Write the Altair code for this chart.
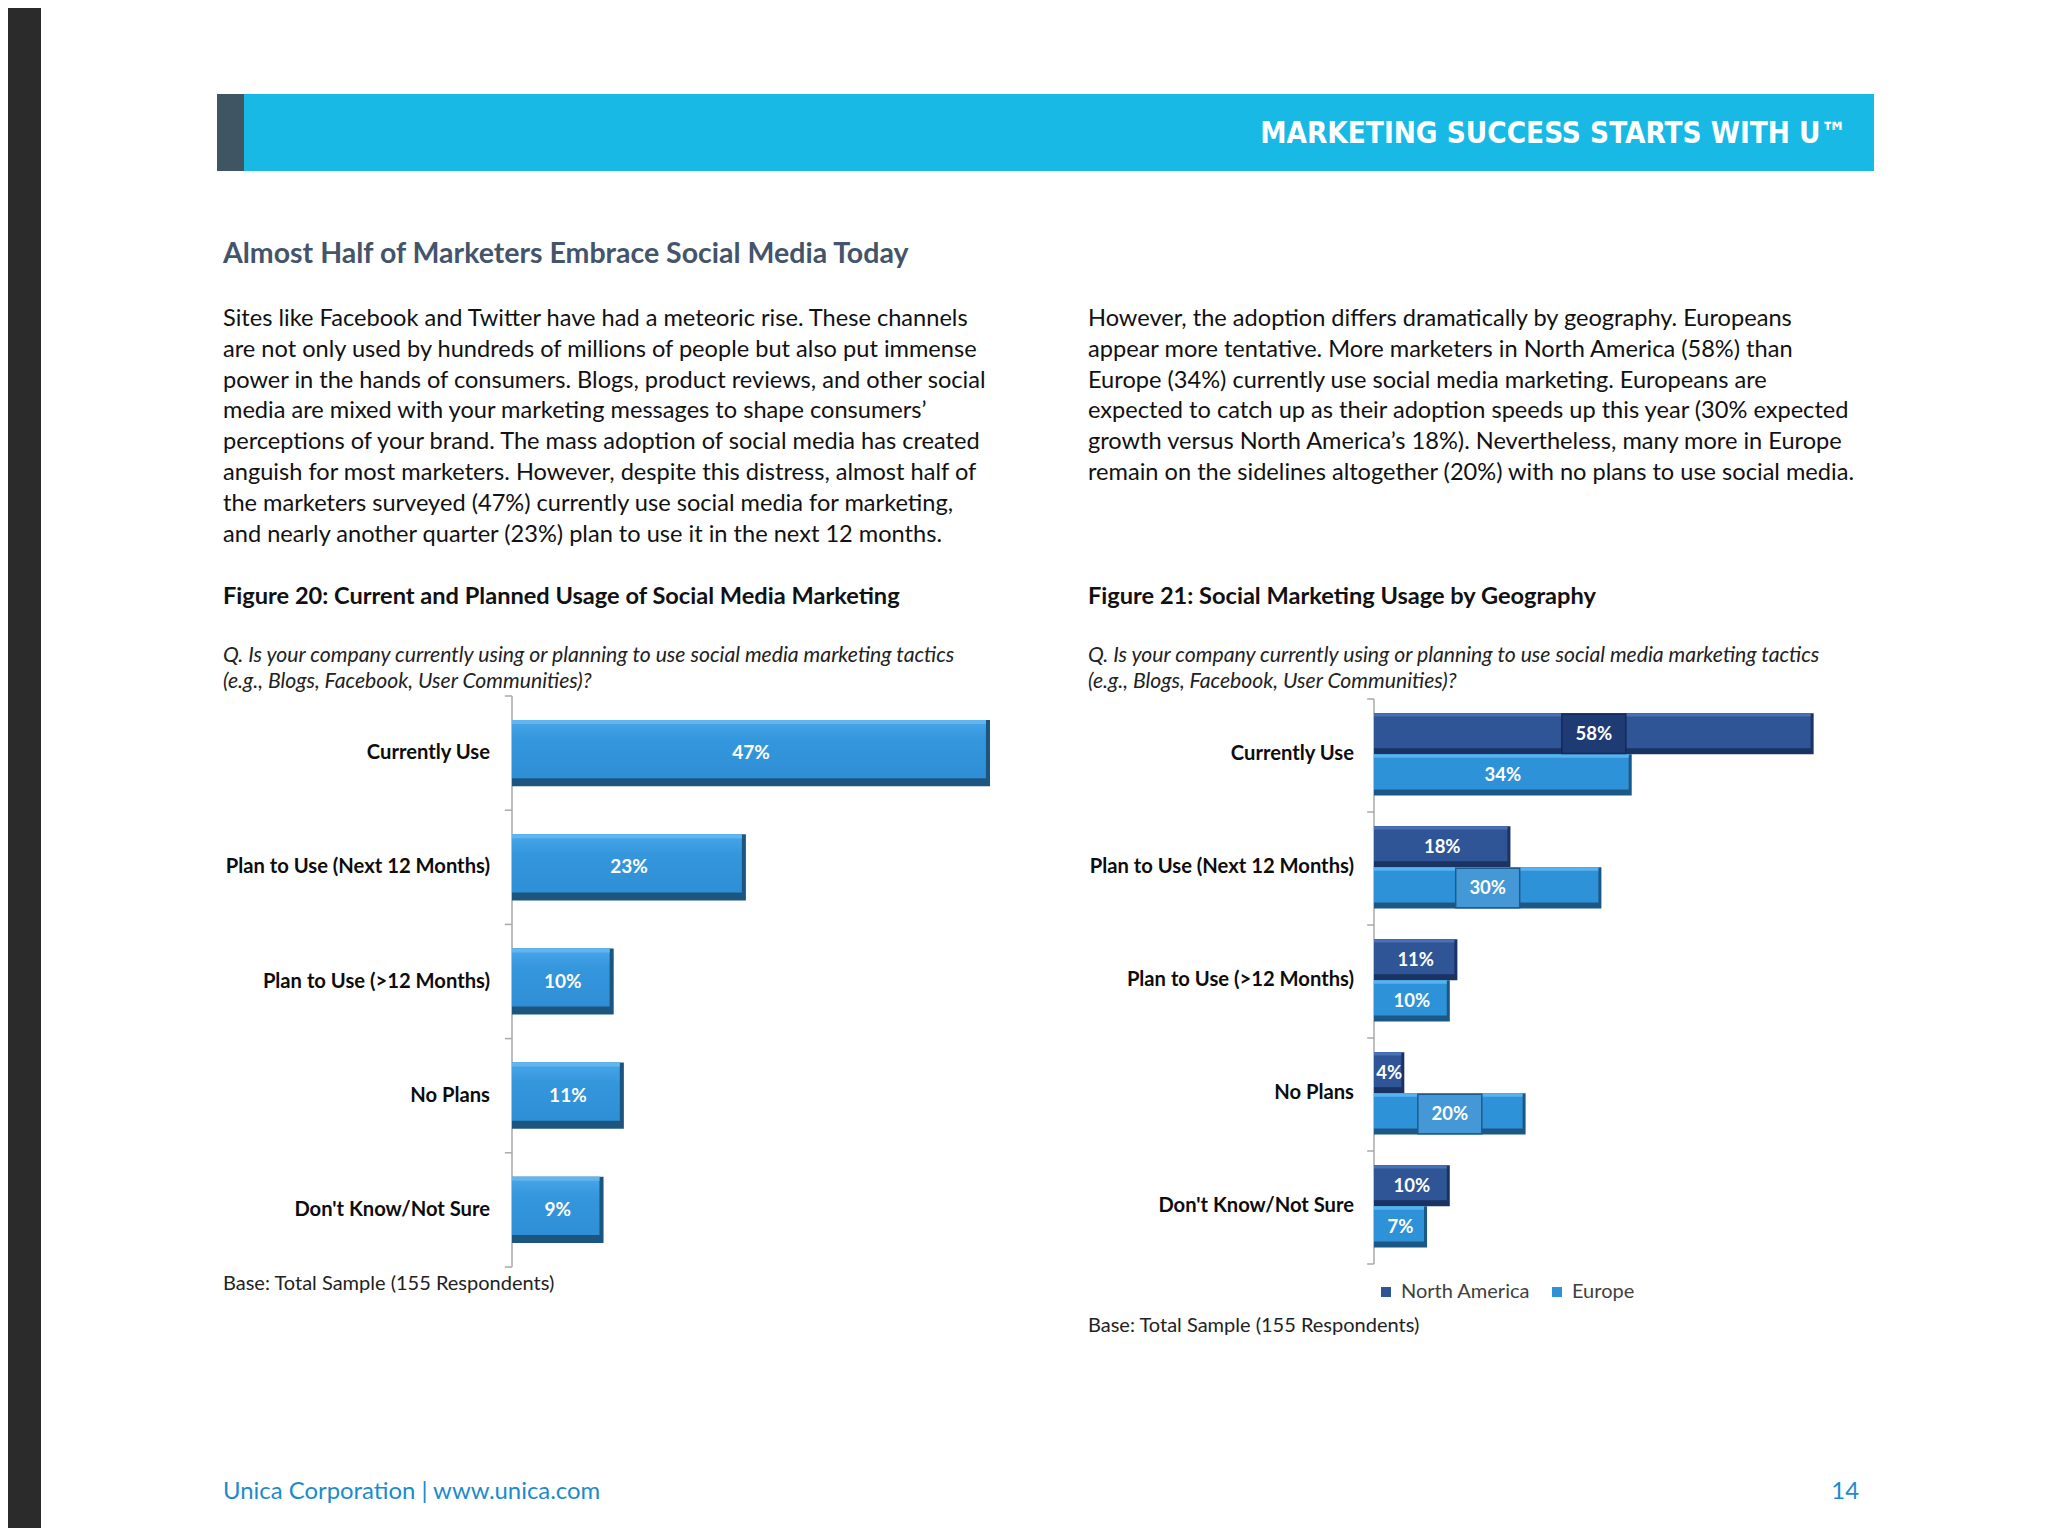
import altair as alt
import pandas as pd

# ---------------- text content ----------------
header_text = "MARKETING SUCCESS STARTS WITH U™"
section_title = "Almost Half of Marketers Embrace Social Media Today"
left_para = [
    "Sites like Facebook and Twitter have had a meteoric rise. These channels",
    "are not only used by hundreds of millions of people but also put immense",
    "power in the hands of consumers. Blogs, product reviews, and other social",
    "media are mixed with your marketing messages to shape consumers’",
    "perceptions of your brand. The mass adoption of social media has created",
    "anguish for most marketers. However, despite this distress, almost half of",
    "the marketers surveyed (47%) currently use social media for marketing,",
    "and nearly another quarter (23%) plan to use it in the next 12 months.",
]
right_para = [
    "However, the adoption differs dramatically by geography. Europeans",
    "appear more tentative. More marketers in North America (58%) than",
    "Europe (34%) currently use social media marketing. Europeans are",
    "expected to catch up as their adoption speeds up this year (30% expected",
    "growth versus North America’s 18%). Nevertheless, many more in Europe",
    "remain on the sidelines altogether (20%) with no plans to use social media.",
]
fig20_title = "Figure 20: Current and Planned Usage of Social Media Marketing"
fig21_title = "Figure 21: Social Marketing Usage by Geography"
question = [
    "Q. Is your company currently using or planning to use social media marketing tactics",
    "(e.g., Blogs, Facebook, User Communities)?",
]
base_note = "Base: Total Sample (155 Respondents)"
footer_left = "Unica Corporation | www.unica.com"
page_number = "14"

# ---------------- data ----------------
categories = ["Currently Use", "Plan to Use (Next 12 Months)", "Plan to Use (>12 Months)",
              "No Plans", "Don't Know/Not Sure"]
overall = [47, 23, 10, 11, 9]
series_names = ["North America", "Europe"]
north_america = [58, 18, 11, 4, 10]
europe = [34, 30, 10, 20, 7]
boxed_labels = [("Currently Use", "North America"),
                ("Plan to Use (Next 12 Months)", "Europe"),
                ("No Plans", "Europe")]

FONT = "Lato"
NARROW = "Liberation Sans Narrow, DejaVu Sans Condensed, Liberation Sans, sans-serif"
N = len(categories)


def P(v):
    return v - 8  # page pixel -> chart pixel (8px body margin)


one = pd.DataFrame({"a": [0]})


def txt(x, y, text, size, weight="normal", style="normal", color="#000000",
        align="left", font=FONT, lh=None):
    props = dict(text=text, fontSize=size, fontWeight=weight, fontStyle=style,
                 color=color, align=align, font=font, baseline="alphabetic")
    if lh is not None:
        props["lineHeight"] = lh
    return alt.Chart(one).mark_text(**props).encode(x=alt.value(P(x)), y=alt.value(P(y)))


def box(x0, x1, y0, y1, color):
    return alt.Chart(one).mark_rect(color=color).encode(
        x=alt.value(P(x0)), x2=alt.value(P(x1)), y=alt.value(P(y0)), y2=alt.value(P(y1)))


# ---------------- page decoration ----------------
page_layers = [
    alt.Chart(one).mark_rect(color="#2b2b2b").encode(
        x=alt.value(0), x2=alt.value(P(41)), y=alt.value(0), y2=alt.value(1520)),
    box(217, 1874, 94, 171, "#19b9e6"),
    box(217, 244, 94, 171, "#3f5562"),
    txt(1847, 143, header_text, 29.4, weight="bold", color="#ffffff", align="right",
        font=NARROW),
    txt(223, 263, section_title, 28.5, weight="bold", color="#44546a"),
    txt(223, 326, left_para, 23.6, color="#111111", lh=30.8),
    txt(1088, 326, right_para, 23.6, color="#111111", lh=30.8),
    txt(223, 604, fig20_title, 23.6, weight="bold", color="#111111"),
    txt(1088, 604, fig21_title, 23.6, weight="bold", color="#111111"),
    txt(223, 662, question, 21.2, style="italic", color="#222222", lh=26),
    txt(1088, 662, question, 21.2, style="italic", color="#222222", lh=26),
    txt(223, 1290, base_note, 20, color="#222222"),
    txt(1088, 1332, base_note, 20, color="#222222"),
    txt(223, 1499, footer_left, 23.9, color="#1b8bcc"),
    txt(1859, 1499, page_number, 23.9, color="#1b8bcc", align="right"),
]

# ---------------- Figure 20 ----------------
x1s = alt.Scale(domain=[0, 50], range=[P(512), P(512) + 508.5], nice=False, zero=False)
y1s = alt.Scale(domain=[0, N], range=[P(696), P(1267)], nice=False, zero=False)

df1 = pd.DataFrame({"category": categories, "value": overall, "i": list(range(N))})
b1 = alt.Chart(df1).transform_calculate(
    zero="0", y0="datum.i + 0.21", y1="datum.i + 0.79", yc="datum.i + 0.5",
    half="datum.value / 2", xin="datum.value - 0.4",
    yb="datum.i + 0.79 - 0.07", yh="datum.i + 0.21 + 0.035",
    label="datum.value + '%'")

X1 = lambda f: alt.X(f, scale=x1s, axis=None)
Y1 = lambda f: alt.Y(f, scale=y1s, axis=None)

face_grad = alt.Gradient(gradient="linear", x1=0, x2=0, y1=0, y2=1, stops=[
    alt.GradientStop(color="#4aa6ea", offset=0),
    alt.GradientStop(color="#3496dc", offset=0.35),
    alt.GradientStop(color="#2f8fd6", offset=1)])

axis1_df = pd.DataFrame({"b": list(range(N + 1))})
ax1 = alt.Chart(axis1_df).transform_calculate(zero="0", t="-0.7")

fig20 = alt.layer(
    ax1.transform_aggregate(lo="min(b)", hi="max(b)").transform_calculate(zero="0")
       .mark_rule(color="#a9a9a9", strokeWidth=1.5).encode(
        x=X1("zero:Q"), y=Y1("lo:Q"), y2="hi:Q"),
    ax1.mark_rule(color="#a9a9a9", strokeWidth=1.5).encode(
        x=X1("t:Q"), x2="zero:Q", y=Y1("b:Q")),
    b1.mark_rect(color="#1c5680").encode(x=X1("zero:Q"), x2="value:Q", y=Y1("y0:Q"), y2="y1:Q"),
    b1.mark_rect(color=face_grad).encode(x=X1("zero:Q"), x2="xin:Q", y=Y1("y0:Q"), y2="yb:Q"),
    b1.mark_rect(color="#62b6f0").encode(x=X1("zero:Q"), x2="xin:Q", y=Y1("y0:Q"), y2="yh:Q"),
    b1.mark_text(color="#ffffff", fontWeight="bold", fontSize=19, font=FONT,
                 baseline="middle").encode(x=X1("half:Q"), y=Y1("yc:Q"), text="label:N"),
    b1.mark_text(color="#0d0d0d", fontWeight="bold", fontSize=20.2, font=FONT, align="right",
                 baseline="middle", dx=-22).encode(x=X1("zero:Q"), y=Y1("yc:Q"), text="category:N"),
)

# ---------------- Figure 21 ----------------
x2s = alt.Scale(domain=[0, 60], range=[P(1374), P(1374) + 454.8], nice=False, zero=False)
y2s = alt.Scale(domain=[0, N], range=[P(699), P(1264)], nice=False, zero=False)
X2 = lambda f: alt.X(f, scale=x2s, axis=None)
Y2 = lambda f: alt.Y(f, scale=y2s, axis=None)

rows = []
for i, c in enumerate(categories):
    for k, (s, vals) in enumerate(zip(series_names, [north_america, europe])):
        rows.append({"category": c, "i": i, "k": k, "series": s, "value": vals[i],
                     "boxed": (c, s) in boxed_labels})
df2 = pd.DataFrame(rows)
b2 = alt.Chart(df2).transform_calculate(
    zero="0", y0="datum.i + 0.125 + datum.k * 0.365", y1="datum.i + 0.49 + datum.k * 0.365",
    yc="datum.i + 0.3075 + datum.k * 0.365", half="datum.value / 2",
    xin="datum.value - 0.4", yb="datum.i + 0.49 + datum.k * 0.365 - 0.055",
    yh="datum.i + 0.125 + datum.k * 0.365 + 0.03", label="datum.value + '%'")

dark_cols = ["#1a3363", "#1b5886"]
face_cols = ["#2f5597", "#2e92d9"]
hi_cols = ["#4a70b5", "#58b2ef"]
boxf_cols = ["#1f3b73", "#4598d6"]
boxs_cols = ["#15295a", "#1d5b8c"]


def C(cols, legend=None):
    return alt.Color("series:N", scale=alt.Scale(domain=series_names, range=cols), legend=legend)


legend = alt.Legend(title=None, orient="none", direction="horizontal",
                    legendX=P(1376), legendY=P(1282), symbolType="square", symbolSize=100,
                    labelFontSize=20, labelFont=FONT, labelColor="#404040", labelOffset=5,
                    columnPadding=16, padding=0, symbolStrokeWidth=0)

axis2_df = pd.DataFrame({"b": list(range(N + 1))})
ax2 = alt.Chart(axis2_df).transform_calculate(zero="0", t="-0.9")

fig21 = alt.layer(
    ax2.transform_aggregate(lo="min(b)", hi="max(b)").transform_calculate(zero="0")
       .mark_rule(color="#a9a9a9", strokeWidth=1.5).encode(
        x=X2("zero:Q"), y=Y2("lo:Q"), y2="hi:Q"),
    ax2.mark_rule(color="#a9a9a9", strokeWidth=1.5).encode(
        x=X2("t:Q"), x2="zero:Q", y=Y2("b:Q")),
    b2.mark_rect().encode(x=X2("zero:Q"), x2="value:Q", y=Y2("y0:Q"), y2="y1:Q",
                          color=C(dark_cols)),
    b2.mark_rect().encode(x=X2("zero:Q"), x2="xin:Q", y=Y2("y0:Q"), y2="yb:Q",
                          color=C(face_cols, legend)),
    b2.mark_rect().encode(x=X2("zero:Q"), x2="xin:Q", y=Y2("y0:Q"), y2="yh:Q",
                          color=C(hi_cols)),
    b2.transform_filter("datum.boxed").mark_point(
        shape="M-1,-0.62L1,-0.62L1,0.62L-1,0.62Z", size=4096, filled=True, opacity=1,
        strokeWidth=1.5).encode(
        x=X2("half:Q"), y=Y2("yc:Q"), color=C(boxf_cols),
        stroke=alt.Stroke("series:N", scale=alt.Scale(domain=series_names, range=boxs_cols),
                          legend=None)),
    b2.mark_text(color="#ffffff", fontWeight="bold", fontSize=18.5, font=FONT,
                 baseline="middle").encode(x=X2("half:Q"), y=Y2("yc:Q"), text="label:N"),
    b2.transform_filter("datum.k == 0").mark_text(
        color="#0d0d0d", fontWeight="bold", fontSize=20.2, font=FONT, align="right",
        baseline="middle", dx=-20).encode(
        x=X2("zero:Q"), y=Y2("y1:Q"), text="category:N"),
).resolve_scale(color="independent", stroke="independent")

chart = alt.layer(*page_layers, fig20, fig21).resolve_scale(
    x="independent", y="independent", color="independent", stroke="independent"
).properties(
    width=2032, height=1520, padding=0, background="#ffffff",
    autosize=alt.AutoSizeParams(type="none"),
).configure_view(stroke=None)

chart.save("out.html", embed_options={"renderer": "svg", "actions": False})
